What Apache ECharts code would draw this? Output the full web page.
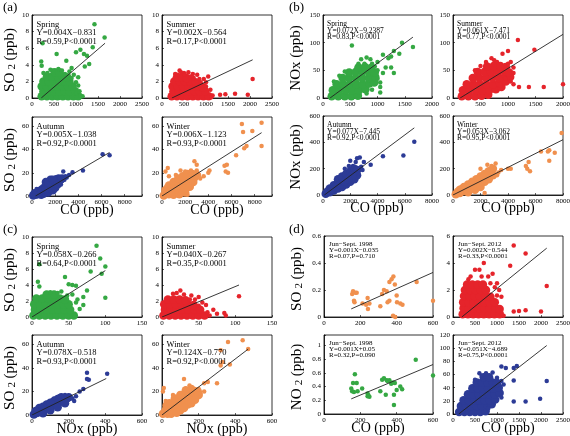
<!DOCTYPE html>
<html>
<head>
<meta charset="utf-8">
<script src="https://cdn.jsdelivr.net/npm/echarts@6/dist/echarts.min.js"></script>
<style>html,body{margin:0;padding:0;background:#fff}#chart{width:570px;height:436px}</style>
</head>
<body>
<div id="chart"></div>
<script>
const SERIF = '"Liberation Serif", "DejaVu Serif", serif';
const GREEN = '#35a843', RED = '#e5242b', BLUE = '#2c3b96', ORANGE = '#f0904e';

// axis ranges [min, max, interval]
const axCO2500 = [0, 2500, 500];
const axCO9500 = [0, 9500, 2000];
const axCO2000 = [0, 2000, 500];
const axCO8000 = [0, 8000, 2000];
const axCO600 = [0, 600, 200];
const axSO10 = [0, 10, 2];
const axSO68 = [0, 68, 20];
const axSO6 = [0, 6, 2];
const axSO06 = [0, 0.6, 0.2];
const axNOx150 = [0, 150, 50];
const axNOx600 = [0, 600, 200];
const axNO2low = [0, 1.15, 0.2];
const axNO2120 = [0, 120, 20];

// ---- (a) SO2 vs CO ----
const aSpringCore = [[220,0.2],[340,0.2],[460,0.2],[580,0.2],[700,0.2],[820,0.2],[940,0.2],[1050,0.2],
  [260,0.8],[380,0.8],[500,0.8],[620,0.8],[740,0.8],[860,0.8],[980,0.8],
  [220,1.4],[340,1.4],[460,1.4],[580,1.4],[700,1.4],[820,1.4],[920,1.4],
  [260,2.0],[380,2.0],[500,2.0],[620,2.0],[740,2.0],[850,2.0],
  [340,2.6],[460,2.6],[580,2.6],[700,2.6],[800,2.5],[520,3.1],[620,3.1]];
const aSpringPts = [[210,4.4],[220,3.9],[240,6.6],[560,5.3],[600,3.5],[680,3.3],[750,2.9],[780,4.5],[850,3.2],[900,3.6],[950,2.8],[1000,5.5],[1050,2.5],[1000,0.6],[1100,5.8],[1100,0.3],[1150,0.2],[1180,5.3],[1200,3.8],[1250,5.1],[1300,4.1],[1380,6.1],[1420,8.9],[1650,7.3],[1050,1.5],[1080,0.8],[470,3.3],[350,3.0],[260,3.0],[420,3.4],[900,2.4],[1000,1.9]];
const aSpringFit = [[210,0],[1660,6.6]];
const aSpringText = ['Spring', 'Y=0.004X\u22120.831', 'R=0.59,P<0.0001'];

const aSummerCore = [[220,0.2],[340,0.2],[460,0.2],[580,0.2],[700,0.2],[820,0.2],[940,0.2],[1060,0.2],
  [260,0.8],[380,0.8],[500,0.8],[620,0.8],[740,0.8],[860,0.8],[980,0.8],
  [240,1.4],[360,1.4],[480,1.4],[600,1.4],[720,1.4],[840,1.4],[930,1.3],
  [280,2.0],[400,2.0],[520,2.0],[640,2.0],[760,1.9],[340,2.5],[460,2.5],[560,2.4]];
const aSummerPts = [[300,2.9],[350,2.8],[400,3.3],[430,3.1],[500,3.0],[520,2.8],[600,3.1],[650,2.6],[700,2.9],[800,2.8],[850,2.3],[950,2.3],[1000,1.9],[1050,2.6],[1100,1.0],[1150,0.3],[1320,0.4],[1440,0.45],[1660,0.5],[1950,0.4],[2060,2.3],[1120,0.1],[880,1.9],[720,2.4],[1000,1.4]];
const aSummerFit = [[225,0],[2060,4.6]];
const aSummerText = ['Summer', 'Y=0.002X\u22120.564', 'R=0.17,P<0.0001'];

const aAutumnCore = [[100,0.5],[300,1],[500,1.5],[500,3.5],[700,2],[700,4.5],[900,3],[900,6],[1100,4],[1100,7.5],[1300,5],[1300,9],[1500,6],[1500,10.5],[1700,8],[1700,12],[1900,9],[1900,13.5],[2100,11],[2100,14.5],[2300,12],[2300,15],[1200,12],[1600,14],[800,1],[1000,2],[1400,3],[1800,5],[2000,7],
  [200,2],[400,2.5],[600,3],[800,4.5],[1000,5.5],[1200,6.5],[1400,8],[1600,9],[1800,10.5],[2000,11.5],[2200,12.5],[2400,14],[2600,15],[1400,11.5],[1800,14],[2200,10]];
const aAutumnPts = [[2400,15.5],[2500,10],[2700,21],[2900,17],[2600,13],[3000,16],[3500,20.5],[4400,22],[6100,36],[6700,35],[200,4],[400,6],[3200,18],[2800,14]];
const aAutumnFit = [[300,0],[6700,37.5]];
const aAutumnText = ['Autumn', 'Y=0.005X\u22121.038', 'R=0.92,P<0.0001'];

const aWinterCore = [[150,0.5],[300,2],[400,4],[600,1.5],[700,5],[800,8],[900,2.5],[1000,6],[1100,10],[1200,3],[1300,8],[1400,12],[1500,5],[1600,10],[1700,14],[1800,7],[1900,12],[2000,16],[2100,9],[2200,14],[2300,11],[2400,17],[2500,13],[1000,1],[1500,1.5],[2000,3],[500,7],[300,5],
  [600,9],[1000,12],[1400,15],[1800,17],[2200,19],[2600,19],[2800,16],[2700,12],[2000,6],[1600,4],[1200,6],[800,4],[2400,8],[3000,18]];
const aWinterPts = [[300,21],[500,24],[600,17],[1600,22],[2200,1],[2500,8],[2500,22],[2800,30],[3000,27],[3000,22],[2800,20],[3200,18],[3600,17],[4000,20],[4100,22],[5400,26],[5600,27],[5500,21],[5700,20],[6400,35],[6900,62],[7000,55],[7100,41],[7300,43],[7800,56],[8600,63],[8600,43],[2700,16],[3300,15],[1200,18],[2000,21]];
const aWinterFit = [[0,0],[8600,54.5]];
const aWinterText = ['Winter', 'Y=0.006X\u22121.123', 'R=0.93,P<0.0001'];

// ---- (b) NOx vs CO ----
const bSpringCore = [[160,3],[280,3],[400,3],[520,3],[640,4],
  [180,14],[300,14],[420,14],[540,14],[660,14],[780,16],
  [250,25],[370,25],[490,25],[610,25],[730,25],[850,26],[940,28],
  [360,36],[480,36],[600,36],[720,36],[840,36],[960,38],
  [480,46],[600,47],[720,47],[840,47],[950,46],[650,55],[770,56],[880,54]];
const bSpringPts = [[530,95],[1450,100],[1650,92],[1300,85],[1250,75],[1200,72],[1100,78],[1000,65],[870,70],[800,73],[700,70],[760,62],[950,57],[1050,20],[1050,10],[1000,35],[1000,50],[1100,45],[1150,55],[650,62],[200,30],[1300,45],[1400,80],[1250,55],[900,62],[1050,28],[400,48],[300,40],[800,8],[900,15]];
const bSpringFit = [[130,0],[1650,110]];
const bSpringText = ['Spring', 'Y=0.072X\u22129.2387', 'R=0.83,P<0.0001'];

const bSummerCore = [[160,3],[280,3],[400,3],[520,4],[640,6],
  [180,14],[300,14],[420,14],[540,14],[660,14],[780,16],[880,20],
  [250,25],[370,25],[490,25],[610,25],[730,25],[850,27],[960,30],
  [360,36],[480,36],[600,36],[720,36],[840,36],[960,40],[1040,38],
  [450,47],[570,47],[690,47],[810,47],[930,48],[1020,46],[620,57],[740,58],[860,58],[960,56]];
const bSummerPts = [[1180,105],[1480,87],[900,80],[1000,85],[1050,65],[700,72],[750,68],[1100,45],[950,35],[1200,20],[1380,20],[1650,20],[2000,25],[1050,30],[600,65],[800,65],[1100,55],[1000,62],[400,50],[500,58],[1100,25]];
const bSummerFit = [[130,0],[2000,115]];
const bSummerText = ['Summer', 'Y=0.061X\u22127.471', 'R=0.77,P<0.0001'];

const bAutumnCore = [[200,10],[500,20],[500,50],[800,35],[800,75],[1100,50],[1100,90],[1100,120],[1400,60],[1400,100],[1400,140],[1700,80],[1700,120],[1700,160],[2000,100],[2000,140],[2000,180],[2300,120],[2300,160],[2300,200],[2500,150],[2500,190],[300,25],[650,40],[950,60],[1250,80],[1550,100],[1850,120],[2150,150]];
const bAutumnPts = [[2000,260],[2400,250],[2500,280],[2700,285],[2200,220],[2800,215],[2600,160],[3500,230],[4400,295],[5900,300],[6700,405],[1900,220],[1600,200],[3000,250],[2900,190]];
const bAutumnFit = [[100,0],[6700,510]];
const bAutumnText = ['Autumn', 'Y=0.077X\u22127.445', 'R=0.92,P<0.0001'];

const bWinterCore = [[200,5],[500,15],[500,40],[800,30],[800,60],[1100,40],[1100,80],[1400,55],[1400,100],[1700,70],[1700,120],[2000,85],[2000,140],[2300,100],[2300,160],[2600,120],[2600,180],[2900,150],[2900,200],[350,25],[650,45],[950,55],[1250,75],[1550,90],[1850,110],[2150,125],[2450,140],[1100,20],[1600,40],[2000,60]];
const bWinterPts = [[2300,15],[2500,230],[3000,200],[3100,240],[3300,170],[3500,190],[4000,200],[4200,200],[5300,220],[5400,200],[5600,180],[5500,250],[6400,330],[6900,330],[7000,340],[7000,260],[7400,320],[7900,470],[2800,220],[2000,200],[3200,150]];
const bWinterFit = [[0,0],[8000,420]];
const bWinterText = ['Winter', 'Y=0.053X\u22123.062', 'R=0.95,P<0.0001'];

// ---- (c) SO2 vs NOx ----
const cSpringCore = [[2,0.2],[10,0.2],[18,0.2],[26,0.2],[34,0.2],[42,0.2],[50,0.2],[57,0.2],
  [4,0.9],[12,0.9],[20,0.9],[28,0.9],[36,0.9],[44,0.9],[52,0.9],
  [3,1.6],[11,1.6],[19,1.6],[27,1.6],[35,1.6],[43,1.6],[50,1.6],
  [6,2.3],[14,2.3],[22,2.3],[30,2.3],[38,2.3],[45,2.2],[20,2.8],[30,2.8]];
const cSpringPts = [[88,8.9],[93,7.3],[10,6.6],[80,5.7],[95,5.4],[100,6.3],[45,5.0],[50,4.1],[60,3.9],[55,4.0],[8,4.4],[10,3.8],[100,2.4],[70,2.5],[62,2.2],[60,1.8],[70,1.5],[65,1.0],[55,2.8],[75,3.3],[40,3.2],[25,3.1],[58,0.2],[48,2.7],[35,3.0]];
const cSpringFit = [[0,0],[100,5.8]];
const cSpringText = ['Spring', 'Y=0.058X\u22120.266', 'R=0.64,P<0.0001'];

const cSummerCore = [[2,0.2],[10,0.2],[18,0.2],[26,0.2],[34,0.2],[42,0.2],[50,0.2],[58,0.2],
  [4,0.9],[12,0.9],[20,0.9],[28,0.9],[36,0.9],[44,0.9],[52,0.9],
  [3,1.6],[11,1.6],[19,1.6],[27,1.6],[35,1.6],[43,1.5],
  [8,2.2],[16,2.2],[24,2.2],[32,2.1]];
const cSummerPts = [[25,3.3],[15,2.9],[20,3.0],[30,2.8],[40,2.7],[50,2.5],[45,2.2],[105,2.6],[85,0.5],[87,0.2],[75,0.4],[70,0.9],[62,0.6],[60,1.5],[55,1.8],[65,0.2],[38,2.2],[50,1.4]];
const cSummerFit = [[0,0],[105,4]];
const cSummerText = ['Summer', 'Y=0.040X\u22120.267', 'R=0.35,P<0.0001'];

const cAutumnCore = [[10,0.5],[20,1.5],[30,2],[40,3],[50,3.5],[60,4.5],[70,5],[80,6],[90,6.5],[100,7.5],[110,8],[120,9],[130,9.5],[140,10.5],[150,11],[160,12],[170,12.5],[180,13.5],[190,14],[200,15],
  [40,6],[80,9],[120,12],[160,15],[60,1.5],[100,4],[140,6.5],[180,10],[20,3.5],[60,7],[100,10.5],[140,13.5]];
const cAutumnPts = [[200,16],[240,16],[260,20],[280,22],[300,30.5],[310,30],[300,36],[410,35],[220,14],[180,17],[150,16],[120,14],[230,12]];
const cAutumnFit = [[0,0],[405,31]];
const cAutumnText = ['Autumn', 'Y=0.078X\u22120.518', 'R=0.93,P<0.0001'];

const cWinterCore = [[5,1],[15,2],[20,4],[30,1],[35,5],[45,3],[50,7],[60,4],[65,9],[75,6],[80,11],[90,8],[95,13],[105,10],[110,15],[120,12],[130,17],[140,14],[150,19],[165,16],[180,18],[195,20],[50,1],[100,4],[25,8],
  [40,10],[70,14],[100,17],[130,21],[160,22],[140,9],[180,13],[200,17],[80,2],[120,6],[160,10]];
const cWinterPts = [[10,23],[5,20],[120,30.5],[150,25],[180,22],[200,22],[230,27],[250,28],[300,27],[320,42],[330,45],[370,43],[320,55],[360,62],[440,63.5],[470,56],[20,12],[60,17],[210,18],[230,20]];
const cWinterFit = [[0,0],[470,56]];
const cWinterText = ['Winter', 'Y=0.124X\u22120.770', 'R=0.92,P<0.0001'];

// ---- (d) Jun-Sept 1998 vs 2012 ----
const dSO98Pts = [[155,0.17],[160,0.19],[172,0.18],[180,0.18],[165,0.12],[168,0.11],[212,0.10],[240,0.14],[242,0.06],[250,0.10],[232,0.09],[310,0.08],[320,0.17],[330,0.20],[345,0.19],[350,0.11],[360,0.12],[360,0.26],[372,0.28],[382,0.30],[390,0.24],[380,0.01],[392,0.00],[400,0.16],[402,0.11],[420,0.10],[432,0.09],[510,0.26],[600,0.12]];
const dSO98Fit = [[150,0.06],[600,0.33]];
const dSO98Text = ['Jun\u2212Sept. 1998', 'Y=0.001X\u22120.035', 'R=0.07,P=0.710'];

const dSO12Core = [[220,0.2],[340,0.2],[460,0.2],[580,0.2],[700,0.2],[820,0.2],[940,0.2],[1060,0.2],
  [240,0.65],[360,0.65],[480,0.65],[600,0.65],[720,0.65],[840,0.65],[960,0.65],[1060,0.6],
  [230,1.1],[350,1.1],[470,1.1],[590,1.1],[710,1.1],[830,1.1],[950,1.1],
  [250,1.55],[370,1.55],[490,1.55],[610,1.55],[730,1.55],[850,1.5],
  [270,2.0],[390,2.0],[510,2.0],[630,2.0],[750,2.0],[320,2.4],[440,2.4],[560,2.4],[680,2.4]];
const dSO12Pts = [[1380,5.3],[1650,4.7],[2130,2.3],[1300,3.8],[1380,0.4],[1500,0.45],[1650,0.5],[2000,0.4],[700,4.0],[600,3.5],[500,3.5],[900,3.2],[1000,2.5],[1100,0.3],[400,3.0],[800,3.0],[950,2.2],[1100,1.5],[1050,2.0],[350,2.8],[650,3.0],[1150,0.1],[850,2.5],[1000,1.6]];
const dSO12Fit = [[200,0],[2130,5.1]];
const dSO12Text = ['Jun\u2212Sept. 2012', 'Y=0.002X\u22120.544', 'R=0.33,P<0.0001'];

const dNO98Pts = [[150,0.37],[155,0.33],[160,0.45],[165,0.32],[170,0.58],[180,0.45],[185,0.33],[210,0.37],[240,0.30],[245,0.27],[250,0.25],[240,0.26],[310,0.33],[320,0.50],[330,0.52],[340,0.28],[345,0.49],[350,0.48],[360,0.49],[370,0.44],[380,0.46],[385,0.13],[385,0.28],[390,0.45],[400,0.35],[420,0.40],[430,0.36],[505,0.79],[600,0.56]];
const dNO98Fit = [[150,0.22],[600,0.72]];
const dNO98Text = ['Jun\u2212Sept. 1998', 'Y=0.001X+0.05', 'R=0.32,P=0.090'];

const dNO12Core = [[140,3],[260,3],[380,3],[500,3],[620,3],[740,4],
  [180,12],[300,12],[420,12],[540,12],[660,12],[780,13],[880,15],
  [240,21],[360,21],[480,21],[600,21],[720,21],[840,21],[960,22],
  [340,30],[460,30],[580,30],[700,30],[820,30],[940,30],[1060,32],
  [440,39],[560,39],[680,39],[800,39],[920,39],[1040,40],
  [540,48],[660,48],[780,48],[900,48],[1000,47],[700,56],[820,56]];
const dNO12Pts = [[1380,70],[1450,73],[1200,70],[1100,72],[1380,51],[2130,50],[1650,19],[1380,19],[1980,23],[900,63],[1000,55],[800,8],[750,62],[650,58],[1100,50],[1150,45],[600,62],[500,52],[1100,25]];
const dNO12Fit = [[130,0],[2130,104]];
const dNO12Text = ['Jun\u2212Sept. 2012', 'Y=0.051X\u22124.689', 'R=0.75,P<0.0001'];

// text layouts: [dx, dy, lineStep, fontSize]
const txtAC = [4.5, 9.5, 8.5, 8.5];
const txtB = [4, 9.5, 6.2, 7.5];
const txtD = [5, 8.5, 5.8, 7];

const plots = [
  {box:[32,15,110,83], x:axCO2500, y:axSO10, color:GREEN, core:aSpringCore, pts:aSpringPts, fit:aSpringFit, text:aSpringText, tl:txtAC},
  {box:[162,15,110,83], x:axCO2500, y:axSO10, color:RED, core:aSummerCore, pts:aSummerPts, fit:aSummerFit, text:aSummerText, tl:txtAC},
  {box:[32,117,110,79], x:axCO9500, y:axSO68, color:BLUE, core:aAutumnCore, pts:aAutumnPts, fit:aAutumnFit, text:aAutumnText, tl:txtAC},
  {box:[162,117,110,79], x:axCO9500, y:axSO68, color:ORANGE, core:aWinterCore, pts:aWinterPts, fit:aWinterFit, text:aWinterText, tl:txtAC},

  {box:[323,15,109,83], x:axCO2000, y:axNOx150, color:GREEN, core:bSpringCore, pts:bSpringPts, fit:bSpringFit, text:bSpringText, tl:txtB},
  {box:[453,15,110,83], x:axCO2000, y:axNOx150, color:RED, core:bSummerCore, pts:bSummerPts, fit:bSummerFit, text:bSummerText, tl:txtB},
  {box:[323,116,109,79], x:axCO8000, y:axNOx600, color:BLUE, core:bAutumnCore, pts:bAutumnPts, fit:bAutumnFit, text:bAutumnText, tl:txtB},
  {box:[453,116,110,79], x:axCO8000, y:axNOx600, color:ORANGE, core:bWinterCore, pts:bWinterPts, fit:bWinterFit, text:bWinterText, tl:txtB},

  {box:[32,237,110,80], x:axNOx150, y:axSO10, color:GREEN, core:cSpringCore, pts:cSpringPts, fit:cSpringFit, text:cSpringText, tl:txtAC},
  {box:[162,237,110,80], x:axNOx150, y:axSO10, color:RED, core:cSummerCore, pts:cSummerPts, fit:cSummerFit, text:cSummerText, tl:txtAC},
  {box:[32,335,110,80], x:axNOx600, y:axSO68, color:BLUE, core:cAutumnCore, pts:cAutumnPts, fit:cAutumnFit, text:cAutumnText, tl:txtAC},
  {box:[162,335,110,80], x:axNOx600, y:axSO68, color:ORANGE, core:cWinterCore, pts:cWinterPts, fit:cWinterFit, text:cWinterText, tl:txtAC},

  {box:[324,236,109,81], x:axCO600, y:axSO06, color:ORANGE, core:[], pts:dSO98Pts, fit:dSO98Fit, text:dSO98Text, tl:txtD},
  {box:[453,236,110,81], x:axCO2500, y:axSO6, color:RED, core:dSO12Core, pts:dSO12Pts, fit:dSO12Fit, text:dSO12Text, tl:txtD},
  {box:[324,335,109,79], x:axCO600, y:axNO2low, color:GREEN, core:[], pts:dNO98Pts, fit:dNO98Fit, text:dNO98Text, tl:txtD},
  {box:[453,335,110,79], x:axCO2500, y:axNO2120, color:BLUE, core:dNO12Core, pts:dNO12Pts, fit:dNO12Fit, text:dNO12Text, tl:txtD}
];

const tickFmt = step => v => {
  const k = v / step;
  return Math.abs(k - Math.round(k)) < 1e-6 ? String(+v.toFixed(2)) : '';
};

function axis(spec, i) {
  const [min, max, step] = spec;
  return {
    type: 'value', gridIndex: i, min: min, max: max, interval: step,
    axisLine: {show: true, onZero: false, lineStyle: {color: '#000', width: 0.8}},
    axisTick: {show: true, inside: true, length: 2, lineStyle: {color: '#000', width: 0.6}},
    splitLine: {show: false},
    axisLabel: {fontSize: 7, color: '#000', fontFamily: SERIF, margin: 3, formatter: tickFmt(step)}
  };
}

const grid = [], xAxis = [], yAxis = [], series = [], graphic = [];

plots.forEach((p, i) => {
  const [l, t, w, h] = p.box;
  grid.push({left: l, top: t, width: w, height: h, show: true, borderColor: '#000', borderWidth: 0.8,
    backgroundColor: '#fff', containLabel: false, outerBoundsMode: 'none'});
  xAxis.push(axis(p.x, i));
  yAxis.push(axis(p.y, i));
  series.push({type: 'scatter', xAxisIndex: i, yAxisIndex: i, data: p.core, symbolSize: 8.5,
    itemStyle: {color: p.color, opacity: 1}, silent: true, z: 2});
  series.push({type: 'scatter', xAxisIndex: i, yAxisIndex: i, data: p.pts, symbolSize: 4.5,
    itemStyle: {color: p.color, opacity: 1}, silent: true, z: 2});
  series.push({type: 'line', xAxisIndex: i, yAxisIndex: i, data: p.fit, symbol: 'none', silent: true,
    lineStyle: {color: '#222', width: 0.9}, z: 5});
  const [dx, dy, step, fs] = p.tl;
  p.text.forEach((s, k) => {
    graphic.push({type: 'text', x: l + dx, y: t + dy + k * step, z: 100, silent: true,
      style: {text: s, fontSize: fs, fontFamily: SERIF, fill: '#000', verticalAlign: 'middle'}});
  });
});

// panel labels
[['(a)', 3, 8], ['(b)', 289, 8], ['(c)', 3, 230], ['(d)', 289, 230]].forEach(([s, x, y]) => {
  graphic.push({type: 'text', x: x, y: y, z: 100, silent: true,
    style: {text: s, fontSize: 13, fontFamily: SERIF, fill: '#000', verticalAlign: 'middle'}});
});

// y axis titles (rotated, with subscript)
const subRich = {
  n: {fontSize: 15, fontFamily: SERIF, lineHeight: 16},
  s: {fontSize: 11, fontFamily: SERIF, lineHeight: 5, verticalAlign: 'bottom'}
};
[['{n|SO} {s|2} {n|(ppb)}', 10, 60], ['{n|SO} {s|2} {n|(ppb)}', 10, 160],
 ['{n|NOx (ppb)}', 296, 58], ['{n|NOx (ppb)}', 296, 157],
 ['{n|SO} {s|2} {n|(ppb)}', 10, 280], ['{n|SO} {s|2} {n|(ppb)}', 10, 378],
 ['{n|SO} {s|2} {n|(ppb)}', 297, 279], ['{n|NO} {s|2} {n|(ppb)}', 297, 377]
].forEach(([s, x, y]) => {
  graphic.push({type: 'text', x: x, y: y, rotation: Math.PI / 2, z: 100, silent: true,
    style: {text: s, rich: subRich, fill: '#000', align: 'center', verticalAlign: 'middle'}});
});

// x axis titles
[['CO (ppb)', 87, 210], ['CO (ppb)', 217, 210], ['CO (ppb)', 377, 208], ['CO (ppb)', 508, 208],
 ['NOx (ppb)', 87, 429], ['NOx (ppb)', 217, 429], ['CO (ppb)', 378, 428], ['CO (ppb)', 508, 428]
].forEach(([s, x, y]) => {
  graphic.push({type: 'text', x: x, y: y, z: 100, silent: true,
    style: {text: s, fontSize: 14, fontFamily: SERIF, fill: '#000', align: 'center', verticalAlign: 'middle'}});
});

const chart = echarts.init(document.getElementById('chart'), null, {renderer: 'canvas'});
chart.setOption({
  animation: false,
  backgroundColor: '#fff',
  grid: grid, xAxis: xAxis, yAxis: yAxis, series: series, graphic: graphic
});
</script>
</body>
</html>
